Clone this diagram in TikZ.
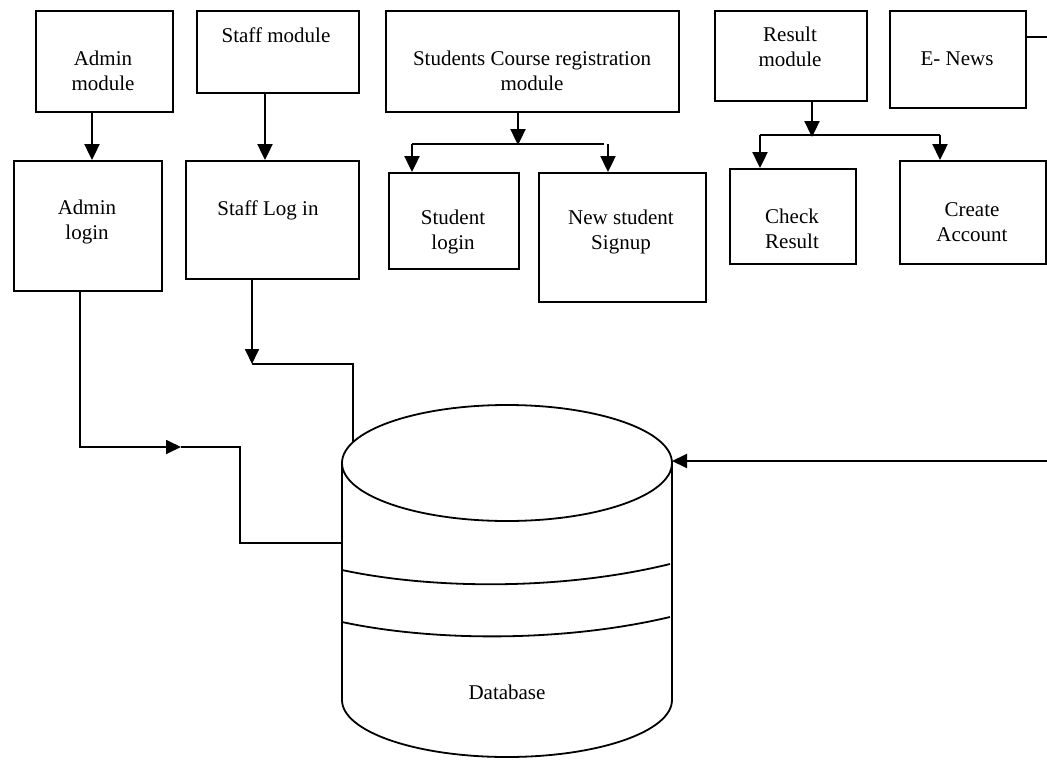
\documentclass[tikz,border=0pt]{standalone}
\usepackage{fontspec}
\setmainfont{Liberation Serif}
\usetikzlibrary{arrows.meta}
\begin{document}
\begin{tikzpicture}[x=1pt,y=-1pt,
  box/.style={draw,line width=2pt,rectangle,inner sep=0pt,anchor=north west},
  txt/.style={font=\fontsize{21}{25}\selectfont,align=center,inner sep=0pt},
  arr/.style={line width=2.4pt,-{Triangle[length=16pt,width=15pt]}},
  thk/.style={line width=2.4pt},
  conn/.style={line width=1.8pt},
  carr/.style={line width=1.8pt,-{Triangle[length=15pt,width=14pt]}},
  cyl/.style={line width=1.8pt}]
\useasboundingbox (0,0) rectangle (1047,760);
\clip (0,0) rectangle (1047,760);
% boxes
\node[box,minimum width=137pt,minimum height=101pt] (am) at (35,10) {};
\node[box,minimum width=162pt,minimum height=82pt] (sm) at (196,10) {};
\node[box,minimum width=148pt,minimum height=130pt] (al) at (13,160) {};
\node[box,minimum width=173pt,minimum height=118pt] (sl) at (185,160) {};
\node[box,minimum width=293pt,minimum height=101pt] (scr) at (385,10) {};
\node[box,minimum width=130pt,minimum height=96pt] (stl) at (388,172) {};
\node[box,minimum width=167pt,minimum height=129pt] (nss) at (538,172) {};
\node[box,minimum width=152pt,minimum height=90pt] (rm) at (714,10) {};
\node[box,minimum width=136pt,minimum height=97pt] (en) at (889,10) {};
\node[box,minimum width=126pt,minimum height=95pt] (cr) at (729,168) {};
\node[box,minimum width=146pt,minimum height=103pt] (ca) at (899,160) {};
% texts
\node[txt] (tam) at (103,71) {Admin\\module};
\node[txt] (tsm) at (276,35) {Staff module};
\node[txt] (tal) at (87,222) {Admin\\login};
\node[txt] (tsl) at (268,210) {Staff Log in};
\node[txt] (tscr) at (532,71) {Students Course registration\\module};
\node[txt] (tstl) at (453,232) {Student\\login};
\node[txt] (tnss) at (621,232) {New student\\Signup};
\node[txt] (trm) at (790,47) {Result\\module};
\node[txt] (ten) at (957,59) {E- News};
\node[txt] (tcr) at (792,229) {Check\\Result};
\node[txt] (tca) at (972,222) {Create\\Account};
% database cylinder
\coordinate (dbc) at (507,463);
\coordinate (dbR) at (672,463);
\coordinate (dbL) at (342,543);
\coordinate (dbT) at (353,442);
\draw[cyl] (dbc) ellipse [x radius=165, y radius=58];
\draw[cyl] (342,463) -- (342,700) arc[start angle=180,end angle=0,x radius=165,y radius=57] -- (672,463);
\draw[cyl] (342,570) .. controls (430,589) and (560,591) .. (670,564);
\draw[cyl] (342,622) .. controls (430,641) and (560,643) .. (670,617);
\node[txt] (tdb) at (507,692) {Database};
% top arrows
\coordinate (xa) at (92,0);
\coordinate (xs) at (265,0);
\draw[arr] (xa |- am.south) -- (xa |- al.north);
\draw[arr] (xs |- sm.south) -- (xs |- sl.north);
% students branch
\coordinate (sj) at (518,145);
\coordinate (sjl) at (412,144);
\coordinate (sjr) at (608,144);
\draw[arr] (sj |- scr.south) -- (sj);
\draw[thk] (sjl) -- (604,144);
\draw[arr] (sjl) -- (sjl |- stl.north);
\draw[arr] (sjr) -- (sjr |- nss.north);
% result branch
\coordinate (rj) at (812,137);
\coordinate (rjl) at (760,135);
\coordinate (rjr) at (940,135);
\draw[arr] (rj |- rm.south) -- (rj);
\draw[thk] (rjl) -- (rjr);
\draw[arr] (rjl) -- (rjl |- cr.north);
\draw[arr] (rjr) -- (rjr |- ca.north);
% to database
\coordinate (ja) at (181,447);
\coordinate (xl) at (80,0);
\draw[carr] (xl |- al.south) |- (ja);
\draw[conn] (ja) -- (240,447) |- (dbL);
\coordinate (js) at (252,364);
\draw[carr] (js |- sl.south) -- (js);
\draw[conn] (js) -| (dbT);
\coordinate (off) at (1055,461);
\draw[conn] (en.east |- 0,37) -- (1055,37) -- (off);
\draw[line width=2pt,-{Triangle[length=15pt,width=14pt]}] (off) -- (dbR |- off);
\end{tikzpicture}
\end{document}
